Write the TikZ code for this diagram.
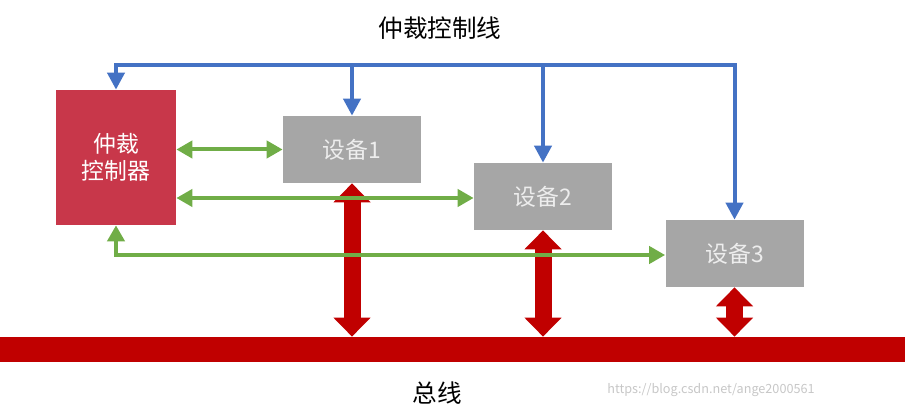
\documentclass[tikz,border=0pt]{standalone}
\usepackage{fontspec}
\setmainfont{Noto Sans CJK SC}
\usepackage{xcolor}
\usepackage{tikz}
\usetikzlibrary{
		arrows.meta,
		calc,
		positioning
	}
\definecolor{ctlblue}{HTML}{4472C4}
\definecolor{datgreen}{HTML}{70AD47}
\definecolor{busred}{HTML}{C00000}
\definecolor{arbred}{HTML}{C8374A}
\definecolor{devgray}{HTML}{A6A6A6}
\tikzset{
		>=stealth,
		ctrlbox/.style={fill=arbred,text=white,minimum width=2.4cm,minimum height=2.7cm,align=center,font=\fontsize{13}{15}\selectfont},
		devbox/.style={fill=devgray,text=white!93!black,minimum width=2.76cm,minimum height=1.34cm,font=\fontsize{13}{15}\selectfont},
		ctlline/.style={ctlblue,line width=0.08cm,-{Triangle[width=0.34cm,length=0.34cm]}},
		datline/.style={datgreen,line width=0.08cm,{Triangle[width=0.34cm,length=0.32cm]}-{Triangle[width=0.34cm,length=0.32cm]}},
		busline/.style={busred,line width=0.34cm,{Triangle[width=0.72cm,length=0.38cm]}-{Triangle[width=0.72cm,length=0.38cm]}}
	}
\begin{document}
\begin{tikzpicture}[x=0.02cm,y=-0.02cm]
          \useasboundingbox (0,0) rectangle (905,411);

          \coordinate (top) at (0,65);

          \node[ctrlbox] (arb) at (116,157.5) {仲裁\\控制器};
          \node[devbox] (dev1) at (352,149.5) {设备1};
          \node[devbox] (dev2) at (543,196.5) {设备2};
          \node[devbox] (dev3) at (734.5,253.5) {设备3};
          \node[fill=busred,minimum width=18.1cm,minimum height=0.5cm,inner sep=0pt] (bus) at (452.5,349.5) {};

          \node[font=\fontsize{14}{16}\selectfont] (ctltitle) at (440,28) {仲裁控制线};
          \node[font=\fontsize{14}{16}\selectfont] (bustitle) at (437,393) {总线};
          \node[text=black!22,font=\fontsize{7.2}{9}\selectfont] (mark) at (711,390) {https://blog.csdn.net/ange2000561};

          % bus connections
          \draw[busline] (dev1.south) -- (dev1.south |- bus.north);
          \draw[busline] (dev2.south) -- (dev2.south |- bus.north);
          \draw[busline] (dev3.south) -- (dev3.south |- bus.north);

          % arbitration control lines
          \draw[ctlline,{Triangle[width=0.34cm,length=0.34cm]}-{Triangle[width=0.34cm,length=0.34cm]}] (arb.north) -- (arb.north |- top) -- (dev3.north |- top) -- (dev3.north);
          \draw[ctlline] (dev1.north |- top) -- (dev1.north);
          \draw[ctlline] (dev2.north |- top) -- (dev2.north);

          % data lines
          \draw[datline] (arb.east |- dev1) -- (dev1.west);
          \draw[datline] ($(arb.east |- dev2)+(0,1.5)$) -- ($(dev2.west)+(0,1.5)$);
          \draw[datline] (arb.south) -- ($(arb.south |- dev3)+(0,1.5)$) -- ($(dev3.west)+(0,1.5)$);

\end{tikzpicture}
\end{document}
